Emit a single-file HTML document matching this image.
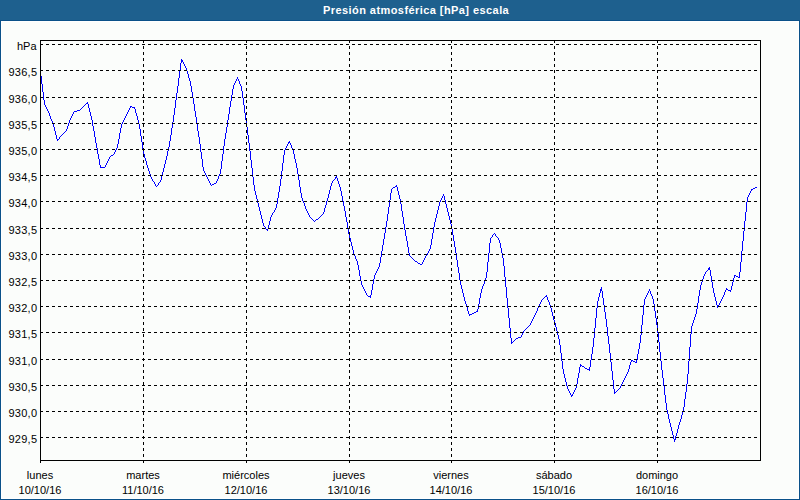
<!DOCTYPE html>
<html><head><meta charset="utf-8"><style>
html,body{margin:0;padding:0;width:800px;height:500px;overflow:hidden;background:#fbfdfb;}
.title{position:absolute;left:0;top:0;width:800px;height:20px;background:#1e608e;border-bottom:1px solid #0a5189;}
.tt{position:absolute;left:323px;top:3px;white-space:nowrap;color:#fff;font:bold 11px/14px "Liberation Sans",sans-serif;letter-spacing:0.43px;}
.frame{position:absolute;left:0;top:21px;width:798px;height:478px;border:1px solid #0a5189;border-top:0;background:#fbfdfb;}
.hl{position:absolute;left:1px;top:21px;width:798px;height:478px;border:1px solid #fff;box-sizing:border-box;}
.yl{position:absolute;left:0;width:37.25px;text-align:right;font:11px/14px "Liberation Sans",sans-serif;color:#000;margin-top:-7px;letter-spacing:0.25px;}
.xl{position:absolute;width:100px;text-align:center;font:11px/15px "Liberation Sans",sans-serif;color:#000;}
svg{position:absolute;left:0;top:0;}
</style></head><body>
<div class="title"></div>
<div class="tt">Presión atmosférica [hPa] escala</div>
<div class="frame"></div>
<div class="hl"></div>
<svg width="800" height="500" viewBox="0 0 800 500">
<path d="M40 72h1v4h-1zM41 76h1v8h-1zM42 84h1v8h-1zM43 92h1v8h-1zM44 100h1v5h-1zM45 105h1v2h-1zM46 107h1v2h-1zM47 109h1v2h-1zM48 111h1v2h-1zM49 113h1v3h-1zM50 116h1v3h-1zM51 119h1v2h-1zM52 121h1v3h-1zM53 124h1v3h-1zM54 127h1v4h-1zM55 131h1v4h-1zM56 135h1v4h-1zM57 139h1v2h-1zM58 139h1v1h-1zM59 137h1v2h-1zM60 136h1v1h-1zM61 135h1v1h-1zM62 134h1v1h-1zM63 133h1v1h-1zM64 132h1v1h-1zM65 131h1v1h-1zM66 129h1v2h-1zM67 126h1v3h-1zM68 123h1v3h-1zM69 120h1v3h-1zM70 118h1v2h-1zM71 116h1v2h-1zM72 114h1v2h-1zM73 112h1v2h-1zM74 111h1v1h-1zM75 111h1v1h-1zM76 111h1v1h-1zM77 110h1v1h-1zM78 110h1v1h-1zM79 110h1v1h-1zM80 109h1v1h-1zM81 108h1v1h-1zM82 107h1v1h-1zM83 106h1v1h-1zM84 105h1v1h-1zM85 104h1v1h-1zM86 103h1v1h-1zM87 102h1v2h-1zM88 104h1v4h-1zM89 108h1v4h-1zM90 112h1v4h-1zM91 116h1v4h-1zM92 120h1v6h-1zM93 126h1v5h-1zM94 131h1v6h-1zM95 137h1v6h-1zM96 143h1v5h-1zM97 148h1v6h-1zM98 154h1v5h-1zM99 159h1v6h-1zM100 165h1v3h-1zM101 167h1v1h-1zM102 167h1v1h-1zM103 167h1v1h-1zM104 167h1v1h-1zM105 165h1v2h-1zM106 163h1v2h-1zM107 161h1v2h-1zM108 159h1v2h-1zM109 157h1v2h-1zM110 156h1v1h-1zM111 155h1v1h-1zM112 155h1v1h-1zM113 154h1v1h-1zM114 152h1v2h-1zM115 150h1v2h-1zM116 148h1v2h-1zM117 144h1v4h-1zM118 139h1v5h-1zM119 133h1v6h-1zM120 128h1v5h-1zM121 124h1v4h-1zM122 122h1v2h-1zM123 120h1v2h-1zM124 118h1v2h-1zM125 116h1v2h-1zM126 114h1v2h-1zM127 112h1v2h-1zM128 110h1v2h-1zM129 108h1v2h-1zM130 106h1v2h-1zM131 106h1v1h-1zM132 107h1v1h-1zM133 107h1v1h-1zM134 107h1v2h-1zM135 109h1v4h-1zM136 113h1v3h-1zM137 116h1v4h-1zM138 120h1v4h-1zM139 124h1v5h-1zM140 129h1v7h-1zM141 136h1v6h-1zM142 142h1v7h-1zM143 149h1v5h-1zM144 154h1v4h-1zM145 158h1v3h-1zM146 161h1v4h-1zM147 165h1v3h-1zM148 168h1v3h-1zM149 171h1v3h-1zM150 174h1v3h-1zM151 177h1v2h-1zM152 179h1v2h-1zM153 181h1v1h-1zM154 182h1v2h-1zM155 184h1v2h-1zM156 186h1v1h-1zM157 185h1v1h-1zM158 183h1v2h-1zM159 182h1v1h-1zM160 180h1v2h-1zM161 176h1v4h-1zM162 172h1v4h-1zM163 168h1v4h-1zM164 164h1v4h-1zM165 160h1v4h-1zM166 156h1v4h-1zM167 151h1v5h-1zM168 147h1v4h-1zM169 141h1v6h-1zM170 135h1v6h-1zM171 128h1v7h-1zM172 122h1v6h-1zM173 115h1v7h-1zM174 108h1v7h-1zM175 100h1v8h-1zM176 93h1v7h-1zM177 86h1v7h-1zM178 78h1v8h-1zM179 71h1v7h-1zM180 63h1v8h-1zM181 59h1v4h-1zM182 60h1v2h-1zM183 62h1v2h-1zM184 64h1v2h-1zM185 66h1v2h-1zM186 68h1v3h-1zM187 71h1v3h-1zM188 74h1v4h-1zM189 78h1v3h-1zM190 81h1v5h-1zM191 86h1v6h-1zM192 92h1v6h-1zM193 98h1v6h-1zM194 104h1v7h-1zM195 111h1v6h-1zM196 117h1v7h-1zM197 124h1v7h-1zM198 131h1v6h-1zM199 137h1v7h-1zM200 144h1v8h-1zM201 152h1v7h-1zM202 159h1v8h-1zM203 167h1v4h-1zM204 171h1v2h-1zM205 173h1v2h-1zM206 175h1v2h-1zM207 177h1v2h-1zM208 179h1v2h-1zM209 181h1v2h-1zM210 183h1v2h-1zM211 185h1v1h-1zM212 184h1v1h-1zM213 184h1v1h-1zM214 183h1v1h-1zM215 183h1v1h-1zM216 181h1v2h-1zM217 179h1v2h-1zM218 176h1v3h-1zM219 174h1v2h-1zM220 169h1v5h-1zM221 161h1v8h-1zM222 154h1v7h-1zM223 146h1v8h-1zM224 139h1v7h-1zM225 133h1v6h-1zM226 127h1v6h-1zM227 120h1v7h-1zM228 114h1v6h-1zM229 107h1v7h-1zM230 101h1v6h-1zM231 95h1v6h-1zM232 89h1v6h-1zM233 85h1v4h-1zM234 83h1v2h-1zM235 81h1v2h-1zM236 79h1v2h-1zM237 77h1v2h-1zM238 79h1v2h-1zM239 81h1v3h-1zM240 84h1v2h-1zM241 86h1v5h-1zM242 91h1v7h-1zM243 98h1v7h-1zM244 105h1v8h-1zM245 113h1v7h-1zM246 120h1v7h-1zM247 127h1v8h-1zM248 135h1v8h-1zM249 143h1v8h-1zM250 151h1v9h-1zM251 160h1v8h-1zM252 168h1v9h-1zM253 177h1v8h-1zM254 185h1v6h-1zM255 191h1v4h-1zM256 195h1v4h-1zM257 199h1v4h-1zM258 203h1v4h-1zM259 207h1v4h-1zM260 211h1v4h-1zM261 215h1v4h-1zM262 219h1v4h-1zM263 223h1v3h-1zM264 226h1v1h-1zM265 227h1v2h-1zM266 229h1v1h-1zM267 229h1v2h-1zM268 225h1v4h-1zM269 221h1v4h-1zM270 217h1v4h-1zM271 215h1v2h-1zM272 213h1v2h-1zM273 212h1v1h-1zM274 210h1v2h-1zM275 208h1v2h-1zM276 204h1v4h-1zM277 198h1v6h-1zM278 192h1v6h-1zM279 186h1v6h-1zM280 179h1v7h-1zM281 171h1v8h-1zM282 163h1v8h-1zM283 155h1v8h-1zM284 150h1v5h-1zM285 148h1v2h-1zM286 146h1v2h-1zM287 144h1v2h-1zM288 142h1v2h-1zM289 141h1v2h-1zM290 143h1v2h-1zM291 145h1v3h-1zM292 148h1v2h-1zM293 150h1v4h-1zM294 154h1v5h-1zM295 159h1v4h-1zM296 163h1v5h-1zM297 168h1v6h-1zM298 174h1v6h-1zM299 180h1v7h-1zM300 187h1v6h-1zM301 193h1v5h-1zM302 198h1v3h-1zM303 201h1v2h-1zM304 203h1v3h-1zM305 206h1v3h-1zM306 209h1v2h-1zM307 211h1v2h-1zM308 213h1v2h-1zM309 215h1v2h-1zM310 217h1v1h-1zM311 218h1v1h-1zM312 219h1v1h-1zM313 220h1v1h-1zM314 221h1v1h-1zM315 220h1v1h-1zM316 219h1v1h-1zM317 219h1v1h-1zM318 218h1v1h-1zM319 217h1v1h-1zM320 216h1v1h-1zM321 215h1v1h-1zM322 214h1v1h-1zM323 212h1v2h-1zM324 208h1v4h-1zM325 205h1v3h-1zM326 201h1v4h-1zM327 198h1v3h-1zM328 194h1v4h-1zM329 190h1v4h-1zM330 186h1v4h-1zM331 183h1v3h-1zM332 181h1v2h-1zM333 180h1v1h-1zM334 179h1v1h-1zM335 177h1v2h-1zM336 176h1v2h-1zM337 178h1v3h-1zM338 181h1v3h-1zM339 184h1v3h-1zM340 187h1v4h-1zM341 191h1v5h-1zM342 196h1v5h-1zM343 201h1v5h-1zM344 206h1v5h-1zM345 211h1v6h-1zM346 217h1v5h-1zM347 222h1v6h-1zM348 228h1v6h-1zM349 234h1v4h-1zM350 238h1v4h-1zM351 242h1v4h-1zM352 246h1v4h-1zM353 250h1v4h-1zM354 254h1v2h-1zM355 256h1v3h-1zM356 259h1v2h-1zM357 261h1v4h-1zM358 265h1v5h-1zM359 270h1v6h-1zM360 276h1v5h-1zM361 281h1v4h-1zM362 285h1v2h-1zM363 287h1v2h-1zM364 289h1v2h-1zM365 291h1v2h-1zM366 293h1v2h-1zM367 295h1v1h-1zM368 296h1v1h-1zM369 296h1v1h-1zM370 295h1v3h-1zM371 290h1v5h-1zM372 284h1v6h-1zM373 279h1v5h-1zM374 275h1v4h-1zM375 273h1v2h-1zM376 271h1v2h-1zM377 269h1v2h-1zM378 267h1v2h-1zM379 263h1v4h-1zM380 257h1v6h-1zM381 251h1v6h-1zM382 245h1v6h-1zM383 239h1v6h-1zM384 233h1v6h-1zM385 227h1v6h-1zM386 221h1v6h-1zM387 214h1v7h-1zM388 207h1v7h-1zM389 200h1v7h-1zM390 193h1v7h-1zM391 189h1v4h-1zM392 188h1v1h-1zM393 187h1v1h-1zM394 187h1v1h-1zM395 186h1v1h-1zM396 185h1v2h-1zM397 187h1v4h-1zM398 191h1v4h-1zM399 195h1v4h-1zM400 199h1v5h-1zM401 204h1v7h-1zM402 211h1v6h-1zM403 217h1v7h-1zM404 224h1v6h-1zM405 230h1v6h-1zM406 236h1v5h-1zM407 241h1v6h-1zM408 247h1v6h-1zM409 253h1v3h-1zM410 256h1v1h-1zM411 257h1v1h-1zM412 258h1v1h-1zM413 259h1v1h-1zM414 260h1v1h-1zM415 261h1v1h-1zM416 261h1v1h-1zM417 262h1v1h-1zM418 263h1v1h-1zM419 263h1v1h-1zM420 264h1v1h-1zM421 264h1v1h-1zM422 262h1v2h-1zM423 260h1v2h-1zM424 258h1v2h-1zM425 256h1v2h-1zM426 255h1v1h-1zM427 253h1v2h-1zM428 251h1v2h-1zM429 249h1v2h-1zM430 245h1v4h-1zM431 239h1v6h-1zM432 233h1v6h-1zM433 227h1v6h-1zM434 222h1v5h-1zM435 218h1v4h-1zM436 214h1v4h-1zM437 210h1v4h-1zM438 206h1v4h-1zM439 202h1v4h-1zM440 200h1v2h-1zM441 198h1v2h-1zM442 196h1v2h-1zM443 194h1v2h-1zM444 196h1v4h-1zM445 200h1v4h-1zM446 204h1v4h-1zM447 208h1v4h-1zM448 212h1v4h-1zM449 216h1v4h-1zM450 220h1v4h-1zM451 224h1v5h-1zM452 229h1v6h-1zM453 235h1v6h-1zM454 241h1v6h-1zM455 247h1v6h-1zM456 253h1v7h-1zM457 260h1v7h-1zM458 267h1v6h-1zM459 273h1v7h-1zM460 280h1v5h-1zM461 285h1v4h-1zM462 289h1v4h-1zM463 293h1v4h-1zM464 297h1v4h-1zM465 301h1v3h-1zM466 304h1v3h-1zM467 307h1v4h-1zM468 311h1v3h-1zM469 314h1v2h-1zM470 314h1v1h-1zM471 314h1v1h-1zM472 313h1v1h-1zM473 313h1v1h-1zM474 312h1v1h-1zM475 312h1v1h-1zM476 311h1v1h-1zM477 309h1v3h-1zM478 304h1v5h-1zM479 298h1v6h-1zM480 293h1v5h-1zM481 289h1v4h-1zM482 286h1v3h-1zM483 284h1v2h-1zM484 281h1v3h-1zM485 278h1v3h-1zM486 272h1v6h-1zM487 262h1v10h-1zM488 253h1v9h-1zM489 243h1v10h-1zM490 238h1v5h-1zM491 237h1v1h-1zM492 235h1v2h-1zM493 234h1v1h-1zM494 233h1v1h-1zM495 234h1v2h-1zM496 236h1v1h-1zM497 237h1v1h-1zM498 238h1v2h-1zM499 240h1v3h-1zM500 243h1v5h-1zM501 248h1v5h-1zM502 253h1v5h-1zM503 258h1v8h-1zM504 266h1v11h-1zM505 277h1v10h-1zM506 287h1v11h-1zM507 298h1v10h-1zM508 308h1v10h-1zM509 318h1v10h-1zM510 328h1v10h-1zM511 338h1v6h-1zM512 342h1v1h-1zM513 341h1v1h-1zM514 340h1v1h-1zM515 339h1v1h-1zM516 338h1v1h-1zM517 338h1v1h-1zM518 337h1v1h-1zM519 337h1v1h-1zM520 337h1v1h-1zM521 335h1v2h-1zM522 333h1v2h-1zM523 331h1v2h-1zM524 330h1v1h-1zM525 329h1v1h-1zM526 328h1v1h-1zM527 327h1v1h-1zM528 326h1v1h-1zM529 325h1v1h-1zM530 323h1v2h-1zM531 321h1v2h-1zM532 319h1v2h-1zM533 317h1v2h-1zM534 315h1v2h-1zM535 313h1v2h-1zM536 311h1v2h-1zM537 308h1v3h-1zM538 306h1v2h-1zM539 304h1v2h-1zM540 302h1v2h-1zM541 300h1v2h-1zM542 299h1v1h-1zM543 298h1v1h-1zM544 297h1v1h-1zM545 296h1v1h-1zM546 295h1v2h-1zM547 297h1v3h-1zM548 300h1v2h-1zM549 302h1v3h-1zM550 305h1v3h-1zM551 308h1v4h-1zM552 312h1v4h-1zM553 316h1v4h-1zM554 320h1v3h-1zM555 323h1v4h-1zM556 327h1v4h-1zM557 331h1v4h-1zM558 335h1v4h-1zM559 339h1v6h-1zM560 345h1v8h-1zM561 353h1v8h-1zM562 361h1v8h-1zM563 369h1v5h-1zM564 374h1v4h-1zM565 378h1v4h-1zM566 382h1v4h-1zM567 386h1v3h-1zM568 389h1v2h-1zM569 391h1v2h-1zM570 393h1v2h-1zM571 395h1v2h-1zM572 394h1v2h-1zM573 392h1v2h-1zM574 390h1v2h-1zM575 388h1v2h-1zM576 384h1v4h-1zM577 378h1v6h-1zM578 373h1v5h-1zM579 367h1v6h-1zM580 364h1v3h-1zM581 365h1v1h-1zM582 366h1v1h-1zM583 366h1v1h-1zM584 367h1v1h-1zM585 368h1v1h-1zM586 368h1v1h-1zM587 369h1v1h-1zM588 369h1v1h-1zM589 367h1v4h-1zM590 360h1v7h-1zM591 354h1v6h-1zM592 347h1v7h-1zM593 338h1v9h-1zM594 328h1v10h-1zM595 318h1v10h-1zM596 308h1v10h-1zM597 301h1v7h-1zM598 297h1v4h-1zM599 293h1v4h-1zM600 289h1v4h-1zM601 287h1v4h-1zM602 291h1v7h-1zM603 298h1v7h-1zM604 305h1v7h-1zM605 312h1v7h-1zM606 319h1v8h-1zM607 327h1v9h-1zM608 336h1v8h-1zM609 344h1v9h-1zM610 353h1v9h-1zM611 362h1v9h-1zM612 371h1v9h-1zM613 380h1v9h-1zM614 389h1v5h-1zM615 392h1v1h-1zM616 391h1v1h-1zM617 390h1v1h-1zM618 389h1v1h-1zM619 388h1v1h-1zM620 386h1v2h-1zM621 384h1v2h-1zM622 382h1v2h-1zM623 380h1v2h-1zM624 378h1v2h-1zM625 376h1v2h-1zM626 374h1v2h-1zM627 372h1v2h-1zM628 369h1v3h-1zM629 365h1v4h-1zM630 362h1v3h-1zM631 360h1v2h-1zM632 360h1v1h-1zM633 361h1v1h-1zM634 361h1v1h-1zM635 362h1v1h-1zM636 360h1v3h-1zM637 354h1v6h-1zM638 349h1v5h-1zM639 343h1v6h-1zM640 335h1v8h-1zM641 325h1v10h-1zM642 315h1v10h-1zM643 305h1v10h-1zM644 299h1v6h-1zM645 297h1v2h-1zM646 295h1v2h-1zM647 293h1v2h-1zM648 291h1v2h-1zM649 289h1v2h-1zM650 291h1v3h-1zM651 294h1v2h-1zM652 296h1v3h-1zM653 299h1v5h-1zM654 304h1v7h-1zM655 311h1v7h-1zM656 318h1v7h-1zM657 325h1v8h-1zM658 333h1v9h-1zM659 342h1v10h-1zM660 352h1v9h-1zM661 361h1v9h-1zM662 370h1v8h-1zM663 378h1v8h-1zM664 386h1v9h-1zM665 395h1v8h-1zM666 403h1v7h-1zM667 410h1v4h-1zM668 414h1v5h-1zM669 419h1v4h-1zM670 423h1v4h-1zM671 427h1v4h-1zM672 431h1v4h-1zM673 435h1v4h-1zM674 439h1v3h-1zM675 436h1v4h-1zM676 433h1v3h-1zM677 429h1v4h-1zM678 425h1v4h-1zM679 422h1v3h-1zM680 419h1v3h-1zM681 415h1v4h-1zM682 412h1v3h-1zM683 407h1v5h-1zM684 399h1v8h-1zM685 392h1v7h-1zM686 384h1v8h-1zM687 374h1v10h-1zM688 361h1v13h-1zM689 347h1v14h-1zM690 334h1v13h-1zM691 326h1v8h-1zM692 323h1v3h-1zM693 320h1v3h-1zM694 317h1v3h-1zM695 314h1v3h-1zM696 309h1v5h-1zM697 303h1v6h-1zM698 296h1v7h-1zM699 290h1v6h-1zM700 285h1v5h-1zM701 282h1v3h-1zM702 279h1v3h-1zM703 276h1v3h-1zM704 274h1v2h-1zM705 272h1v2h-1zM706 271h1v1h-1zM707 270h1v1h-1zM708 268h1v2h-1zM709 267h1v3h-1zM710 270h1v6h-1zM711 276h1v6h-1zM712 282h1v6h-1zM713 288h1v5h-1zM714 293h1v4h-1zM715 297h1v4h-1zM716 301h1v4h-1zM717 305h1v3h-1zM718 305h1v2h-1zM719 303h1v2h-1zM720 301h1v2h-1zM721 299h1v2h-1zM722 297h1v2h-1zM723 295h1v2h-1zM724 292h1v3h-1zM725 290h1v2h-1zM726 288h1v2h-1zM727 289h1v1h-1zM728 290h1v1h-1zM729 290h1v1h-1zM730 290h1v2h-1zM731 286h1v4h-1zM732 282h1v4h-1zM733 278h1v4h-1zM734 275h1v3h-1zM735 275h1v1h-1zM736 276h1v1h-1zM737 276h1v1h-1zM738 277h1v1h-1zM739 272h1v6h-1zM740 262h1v10h-1zM741 251h1v11h-1zM742 241h1v10h-1zM743 231h1v10h-1zM744 221h1v10h-1zM745 212h1v9h-1zM746 202h1v10h-1zM747 197h1v5h-1zM748 195h1v2h-1zM749 193h1v2h-1zM750 191h1v2h-1zM751 189h1v2h-1zM752 189h1v1h-1zM753 188h1v1h-1zM754 188h1v1h-1zM755 187h1v1h-1zM756 187h1v1h-1z" fill="#0000ff" shape-rendering="crispEdges"/>
<g stroke="#000" stroke-width="1" stroke-dasharray="3 3" shape-rendering="crispEdges" fill="none">
<line x1="40" y1="44.5" x2="760" y2="44.5" />
<line x1="40" y1="70.5" x2="760" y2="70.5" />
<line x1="40" y1="97.5" x2="760" y2="97.5" />
<line x1="40" y1="123.5" x2="760" y2="123.5" />
<line x1="40" y1="149.5" x2="760" y2="149.5" />
<line x1="40" y1="175.5" x2="760" y2="175.5" />
<line x1="40" y1="201.5" x2="760" y2="201.5" />
<line x1="40" y1="228.5" x2="760" y2="228.5" />
<line x1="40" y1="254.5" x2="760" y2="254.5" />
<line x1="40" y1="280.5" x2="760" y2="280.5" />
<line x1="40" y1="306.5" x2="760" y2="306.5" />
<line x1="40" y1="332.5" x2="760" y2="332.5" />
<line x1="40" y1="359.5" x2="760" y2="359.5" />
<line x1="40" y1="385.5" x2="760" y2="385.5" />
<line x1="40" y1="411.5" x2="760" y2="411.5" />
<line x1="40" y1="437.5" x2="760" y2="437.5" />
<line x1="143.5" y1="40" x2="143.5" y2="463" />
<line x1="246.5" y1="40" x2="246.5" y2="463" />
<line x1="349.5" y1="40" x2="349.5" y2="463" />
<line x1="451.5" y1="40" x2="451.5" y2="463" />
<line x1="554.5" y1="40" x2="554.5" y2="463" />
<line x1="657.5" y1="40" x2="657.5" y2="463" />
</g>
<g stroke="#000" stroke-width="1" shape-rendering="crispEdges" fill="none">
<path d="M40.5 40 V463 M40 460.5 H760 M40 40.5 H760.5 M760.5 40 V460.5" />
</g>
</svg>
<div class="yl" style="top:46px;letter-spacing:0;width:36.5px">hPa</div>
<div class="yl" style="top:72px">936,5</div>
<div class="yl" style="top:99px">936,0</div>
<div class="yl" style="top:125px">935,5</div>
<div class="yl" style="top:151px">935,0</div>
<div class="yl" style="top:177px">934,5</div>
<div class="yl" style="top:203px">934,0</div>
<div class="yl" style="top:230px">933,5</div>
<div class="yl" style="top:256px">933,0</div>
<div class="yl" style="top:282px">932,5</div>
<div class="yl" style="top:308px">932,0</div>
<div class="yl" style="top:334px">931,5</div>
<div class="yl" style="top:361px">931,0</div>
<div class="yl" style="top:387px">930,5</div>
<div class="yl" style="top:413px">930,0</div>
<div class="yl" style="top:439px">929,5</div>
<div class="xl" style="left:-10px;top:468px">lunes<br>10/10/16</div>
<div class="xl" style="left:93px;top:468px">martes<br>11/10/16</div>
<div class="xl" style="left:196px;top:468px">miércoles<br>12/10/16</div>
<div class="xl" style="left:299px;top:468px">jueves<br>13/10/16</div>
<div class="xl" style="left:401px;top:468px">viernes<br>14/10/16</div>
<div class="xl" style="left:504px;top:468px">sábado<br>15/10/16</div>
<div class="xl" style="left:607px;top:468px">domingo<br>16/10/16</div>
</body></html>
